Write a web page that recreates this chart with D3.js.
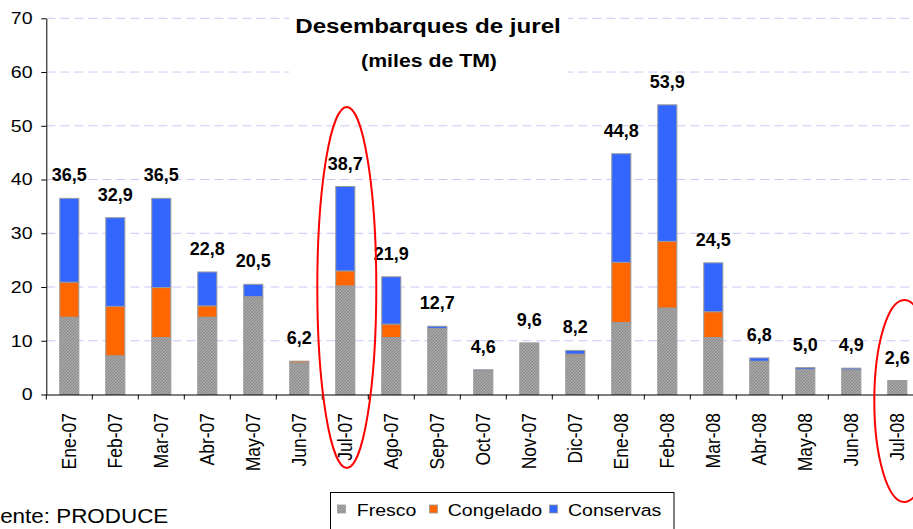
<!DOCTYPE html>
<html>
<head>
<meta charset="utf-8">
<script src="https://cdn.jsdelivr.net/npm/d3@7"></script>
<style>
  html, body { margin: 0; padding: 0; background: #fff; overflow: hidden; }
  svg { display: block; font-family: "Liberation Sans", Arial, sans-serif; }
</style>
</head>
<body>
<div id="chart"></div>
<script>
// Desembarques de jurel - stacked bars per month

const months = ["Ene-07", "Feb-07", "Mar-07", "Abr-07", "May-07", "Jun-07", "Jul-07",
  "Ago-07", "Sep-07", "Oct-07", "Nov-07", "Dic-07", "Ene-08", "Feb-08", "Mar-08",
  "Abr-08", "May-08", "Jun-08", "Jul-08"];
const fresco = [14.4, 7.2, 10.6, 14.4, 18.0, 5.9, 20.2, 10.6, 12.3, 4.4, 9.6, 7.2, 13.4, 16.1, 10.6, 6.2, 4.7, 4.6, 2.6];
const congelado = [6.5, 9.2, 9.3, 2.1, 0.2, 0.3, 2.8, 2.5, 0.0, 0.0, 0.0, 0.3, 11.2, 12.4, 4.8, 0.0, 0.0, 0.0, 0.0];
const conservas = [15.6, 16.5, 16.6, 6.3, 2.3, 0.0, 15.7, 8.8, 0.4, 0.2, 0.0, 0.7, 20.2, 25.4, 9.1, 0.6, 0.3, 0.3, 0.0];
const totals = [36.5, 32.9, 36.5, 22.8, 20.5, 6.2, 38.7, 21.9, 12.7, 4.6, 9.6, 8.2, 44.8, 53.9, 24.5, 6.8, 5.0, 4.9, 2.6];
const seriesNames = ["Fresco", "Congelado", "Conservas"];
const yTicks = [0, 10, 20, 30, 40, 50, 60, 70];
const highlighted = ["Jul-07", "Jul-08"];

const width = 913, height = 529;
const kx = 1.15; // reference text is stretched horizontally
const colors = { Fresco: "url(#hatch)", Congelado: "#ff6600", Conservas: "#3366ff" };

const rows = months.map((m, i) => ({
  month: m, Fresco: fresco[i], Congelado: congelado[i], Conservas: conservas[i], total: totals[i]
}));

const svg = d3.select("#chart").append("svg")
  .attr("width", width).attr("height", height);

svg.append("rect").attr("width", width).attr("height", height).attr("fill", "#fff");

const defs = svg.append("defs");
const pat = defs.append("pattern")
  .attr("id", "hatch").attr("patternUnits", "userSpaceOnUse")
  .attr("width", 3).attr("height", 3);
pat.append("rect").attr("width", 3).attr("height", 3).attr("fill", "#b4b4b4");
pat.append("path").attr("d", "M0,3 L3,0 M-1,1 L1,-1 M2,4 L4,2")
  .attr("stroke", "#858585").attr("stroke-width", 1.1);

const x = d3.scaleBand().domain(months).range([46.3, 920.3])
  .paddingInner(0.585).paddingOuter(0.2925);
const y = d3.scaleLinear().domain([0, 70]).range([394.5, 18.3]);
const xc = (m) => x(m) + x.bandwidth() / 2;

// gridlines
svg.append("g").selectAll("line")
  .data(yTicks.filter((t) => t > 0))
  .join("line")
  .attr("x1", 46.3).attr("x2", 920)
  .attr("y1", (d) => y(d)).attr("y2", (d) => y(d))
  .attr("stroke", "#c8c8f8").attr("stroke-dasharray", "9,5");

// title box
svg.append("rect").attr("x", 289).attr("y", 0).attr("width", 279).attr("height", 78).attr("fill", "#fff");
svg.append("text")
  .attr("transform", `translate(428,33.3) scale(${kx},1)`)
  .attr("text-anchor", "middle").attr("font-weight", "bold").attr("font-size", 21)
  .text("Desembarques de jurel");
svg.append("text")
  .attr("transform", `translate(429,66.7) scale(${kx},1)`)
  .attr("text-anchor", "middle").attr("font-weight", "bold").attr("font-size", 18.5)
  .text("(miles de TM)");

// bars
const stacked = d3.stack().keys(seriesNames)(rows);
svg.append("g").selectAll("g")
  .data(stacked)
  .join("g")
  .attr("fill", (s) => colors[s.key])
  .selectAll("rect")
  .data((s) => s.filter((d) => d[1] - d[0] > 0))
  .join("rect")
  .attr("x", (d) => x(d.data.month))
  .attr("width", x.bandwidth())
  .attr("y", (d) => y(d[1]))
  .attr("height", (d) => y(d[0]) - y(d[1]))
  .attr("stroke", "#9a9a9a").attr("stroke-width", 1);

// axes
const yAxis = svg.append("g")
  .attr("transform", "translate(46.3,0)")
  .call(d3.axisLeft(y).tickValues(yTicks).tickSize(5).tickPadding(7).tickSizeOuter(0));
yAxis.select(".domain").attr("stroke", "#000");
yAxis.selectAll(".tick line").attr("stroke", "#000");
yAxis.selectAll(".tick text")
  .attr("font-size", 17).attr("font-family", "Liberation Sans, Arial, sans-serif")
  .attr("fill", "#000").attr("transform", `scale(${kx},1)`);

const xAxis = svg.append("g")
  .attr("transform", `translate(0,${y(0)})`)
  .call(d3.axisBottom(x).tickSize(0).tickSizeOuter(0));
xAxis.select(".domain").attr("stroke", "#000").attr("d", "M46.3,0.5H920");
xAxis.selectAll(".tick text")
  .attr("y", null).attr("dy", "0.35em")
  .attr("text-anchor", "end")
  .attr("font-size", 17.5).attr("font-family", "Liberation Sans, Arial, sans-serif")
  .attr("fill", "#000")
  .attr("transform", `translate(0,18.5) scale(${kx},1) rotate(-90)`);

// category boundary ticks
const gap = (x.step() - x.bandwidth()) / 2;
svg.append("g").selectAll("line")
  .data(months)
  .join("line")
  .attr("x1", (m) => x(m) - gap).attr("x2", (m) => x(m) - gap)
  .attr("y1", y(0)).attr("y2", y(0) + 5)
  .attr("stroke", "#000");

// value labels
const fmt = (v) => d3.format(".1f")(v).replace(".", ",");
svg.append("g").selectAll("text")
  .data(rows)
  .join("text")
  .attr("x", (d) => xc(d.month))
  .attr("y", (d) => y(d.total) - 17)
  .attr("text-anchor", "middle")
  .attr("font-weight", "bold").attr("font-size", 18)
  .text((d) => fmt(d.total));

// red highlight ellipses
const ellipses = [
  { month: highlighted[0], dx: 1.5, cy: 287.5, rx: 29.5, ry: 180.5 },
  { month: highlighted[1], dx: 7, cy: 401, rx: 30, ry: 101 }
];
svg.append("g").selectAll("ellipse")
  .data(ellipses)
  .join("ellipse")
  .attr("cx", (d) => xc(d.month) + d.dx)
  .attr("cy", (d) => d.cy)
  .attr("rx", (d) => d.rx).attr("ry", (d) => d.ry)
  .attr("fill", "none").attr("stroke", "#ff0000").attr("stroke-width", 2);

// legend
const legend = svg.append("g");
legend.append("rect")
  .attr("x", 330.5).attr("y", 492.5).attr("width", 343.5).attr("height", 60)
  .attr("fill", "#fff").attr("stroke", "#000").attr("stroke-width", 1);
const legendPos = [
  { sq: 337.5, tx: 356.7 },
  { sq: 429.5, tx: 447.7 },
  { sq: 549.5, tx: 568 }
];
seriesNames.forEach((name, i) => {
  legend.append("rect")
    .attr("x", legendPos[i].sq).attr("y", 505).attr("width", 8).attr("height", 8)
    .attr("fill", colors[name]).attr("stroke", "#9a9a9a").attr("stroke-width", 0.8);
  legend.append("text")
    .attr("transform", `translate(${legendPos[i].tx},515.7) scale(${kx},1)`)
    .attr("font-size", 17)
    .text(name);
});

// source
svg.append("text")
  .attr("transform", `translate(-26,523.3) scale(${kx},1)`)
  .attr("font-size", 19.5)
  .text("Fuente: PRODUCE");
</script>
</body>
</html>
